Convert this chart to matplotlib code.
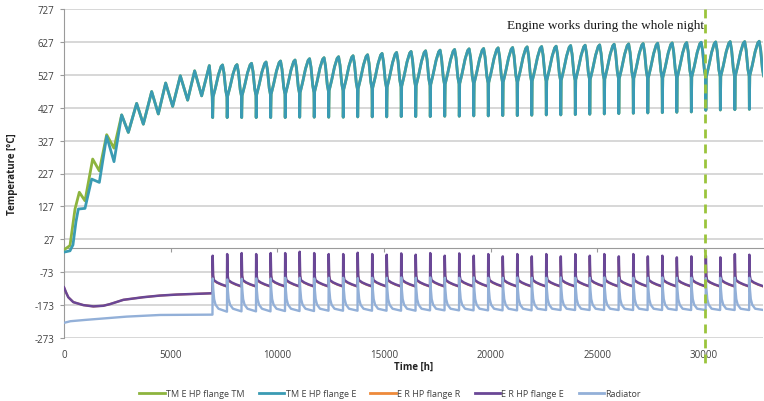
import matplotlib
matplotlib.use("Agg")
import matplotlib.pyplot as plt
import matplotlib.transforms as mtransforms
from matplotlib.lines import Line2D

# ---------------- data ----------------
series_names = ["TM E HP flange TM", "TM E HP flange E", "E R HP flange R",
                "E R HP flange E", "Radiator"]

# warm-up phase (hours, °C)
green_early_t = [0, 281, 516, 718, 984, 1344, 1656, 2000, 2344, 2703]
green_early_v = [-5, 8, 119, 170, 144, 271, 235, 345, 304, 405]

teal_early_t = [0, 281, 420, 560, 672, 984, 1297, 1656, 2000, 2344, 2703, 3016,
                3406, 3719, 4110, 4422, 4766, 5094, 5453, 5797, 6125, 6453,
                6813, 6950]
teal_early_v = [-12, -8, 10, 80, 119, 121, 210, 200, 340, 263, 405, 352,
                440, 377, 476, 408, 502, 431, 524, 450, 539, 463,
                555, 460]

purple_early_t = [0, 100, 200, 437, 905, 1375, 1844, 2156, 2781, 3719, 4500,
                  5281, 6063, 6960]
purple_early_v = [-119, -135, -149, -164, -173, -177, -175, -170, -157, -149,
                  -144, -141, -139, -137]

radiator_early_t = [0, 300, 1000, 2000, 2938, 4500, 6960]
radiator_early_v = [-227, -222, -218, -213, -208, -203, -202]

# cyclic phase: one cycle per period
cycle_start_h = 6970
cycle_period_h = 680

teal_peak = [557, 558, 562, 566, 569, 572, 576, 579, 582, 585, 588, 592, 595,
             598, 600, 602, 604, 606, 607, 609, 610, 612, 613, 614, 616, 617,
             618, 620, 621, 622, 623, 624, 625, 626, 627, 628, 628, 629]
teal_mid = [460, 462, 464, 466, 468, 470, 473, 476, 479, 482, 485, 487, 490,
            492, 494, 497, 499, 500, 502, 503, 505, 506, 508, 509, 510, 512,
            513, 514, 515, 516, 517, 518, 519, 520, 521, 522, 523, 524]
teal_trough = [397, 397, 397, 397, 397, 397, 398, 398, 398, 398, 399, 399, 399,
               400, 400, 400, 401, 401, 402, 402, 403, 403, 404, 405, 405, 406,
               407, 408, 409, 410, 411, 412, 413, 414, 419, 420, 421, 422]

purple_top = [-23, -18, -15, -18, -15, -15, -11, -15, -18, -18, -14, -18, -20,
              -16, -20, -15, -23, -16, -23, -18, -25, -18, -25, -18, -25, -18,
              -23, -18, -25, -18, -25, -23, -28, -25, -23, -28, -18, -20]
purple_decay = [-82, -97, -104, -110, -116]

orange_top = [v - 8 for v in purple_top]
orange_decay = [-85, -99, -105, -111, -117]

radiator_top = [-92, -95, -93, -92, -92, -90, -90, -92, -90, -90, -91, -90,
                -90, -89, -90, -89, -90, -90, -89, -90, -90, -89, -90, -90,
                -89, -90, -90, -89, -90, -90, -90, -89, -90, -90, -91, -90,
                -90, -90]
radiator_decay = [-125, -155, -172, -184]
radiator_bottom = [-193, -192, -192, -192, -191, -191, -191, -190, -190, -190,
                   -190, -190, -190, -190, -189, -189, -189, -189, -189, -189,
                   -189, -189, -188, -188, -188, -188, -188, -188, -188, -188,
                   -188, -188, -188, -188, -188, -188, -188, -188]

marker_time_h = 30050
annotation = "Engine works during the whole night"

y_ticks = list(range(-273, 728, 100))
x_ticks = [0, 5000, 10000, 15000, 20000, 25000, 30000]

# ---------------- build the polylines ----------------
P = cycle_period_h
teal_t, teal_v = list(teal_early_t), list(teal_early_v)
for i in range(len(teal_peak)):
    t0 = cycle_start_h + i * P
    tr, md, pk = teal_trough[i], teal_mid[i], teal_peak[i]
    d = pk - md
    fr = [0.0, 0.03, 0.2, 0.4, 0.58, 0.68, 0.78, 0.9, 0.985]
    vv = [tr, md, md + 0.3 * d, md + 0.7 * d, md + 0.95 * d, pk,
          md + 0.75 * d, md + 0.2 * d, md]
    teal_t += [t0 + f * P for f in fr]
    teal_v += vv

green_t = list(green_early_t) + [t for t in teal_t if t > green_early_t[-1]]
green_v = list(green_early_v) + [v for t, v in zip(teal_t, teal_v) if t > green_early_t[-1]]


def lower(early_t, early_v, tops, decay, bottoms=None):
    tt, vv = list(early_t), list(early_v)
    for i, top in enumerate(tops):
        t0 = cycle_start_h + i * P
        if bottoms is None:
            fr = [0.0, 0.03, 0.08, 0.3, 0.6, 0.985]
            vals = [top] + decay
        else:
            fr = [0.0, 0.04, 0.1, 0.2, 0.4, 0.985]
            vals = [top] + decay + [bottoms[i]]
        tt += [t0 + f * P for f in fr]
        vv += vals
    return tt, vv


orange_t, orange_v = lower(purple_early_t, purple_early_v, orange_top, orange_decay)
purple_t, purple_v = lower(purple_early_t, purple_early_v, purple_top, purple_decay)
rad_t, rad_v = lower(radiator_early_t, radiator_early_v, radiator_top,
                     radiator_decay, radiator_bottom)

# ---------------- drawing ----------------
plt.rcParams['font.family'] = ['Open Sans', 'DejaVu Sans']
fig = plt.figure(figsize=(7.64, 4.02), dpi=100)
ax = fig.add_axes([64 / 764, 1 - 339 / 402, 699 / 764, 329 / 402])

colors = ["#8DB43E", "#3A9BB3", "#EE8A3A", "#6A4796", "#93B0D8"]
widths = [2.0, 2.0, 1.5, 1.8, 1.7]
data = [(green_t, green_v), (teal_t, teal_v), (orange_t, orange_v),
        (purple_t, purple_v), (rad_t, rad_v)]
for (tt, vv), c, w in zip(data, colors, widths):
    ax.plot(tt, vv, color=c, lw=w, solid_joinstyle='round', zorder=3)

ax.set_xlim(0, 32770)
ax.set_ylim(-273, 727)
ax.set_yticks(y_ticks)
ax.set_yticklabels([str(v) for v in y_ticks])
ax.set_xticks(x_ticks)
ax.set_xticklabels([str(v) for v in x_ticks])
ax.yaxis.grid(True, color="#D4D4D4", lw=1.3, zorder=0)
ax.set_axisbelow(True)
for s in ["top", "right", "bottom"]:
    ax.spines[s].set_visible(False)
ax.spines["left"].set_color("#9A9A9A")
ax.tick_params(axis='y', direction='out', length=3, color="#9A9A9A",
               labelsize=7, labelcolor="#404040", pad=4)
ax.tick_params(axis='x', length=0, labelsize=7, labelcolor="#404040", pad=8)

# horizontal axis line crossing at 0 °C
frac0 = (0 - (-273)) / 1000.0
sec = ax.secondary_xaxis(frac0)
sec.set_xticks(x_ticks)
sec.set_xticklabels([])
sec.tick_params(direction='out', length=3, color="#9A9A9A")
sec.spines['bottom'].set_color("#9A9A9A")

ax.set_ylabel("Temperature [°C]", fontsize=7, fontweight='bold', color="#222222")
ax.yaxis.set_label_coords(-0.066, 0.5)
ax.set_xlabel("Time [h]", fontsize=7, fontweight='bold', color="#222222")
ax.xaxis.set_label_coords(0.5, -0.085)
ax.xaxis.label.set_va('center')

# vertical dashed marker
trans = mtransforms.blended_transform_factory(ax.transData, ax.transAxes)
ax.plot([marker_time_h, marker_time_h], [1.0, -0.087], transform=trans,
        color="#9BC43C", lw=2.0, ls=(0, (3.2, 2.2)), clip_on=False, zorder=5)
ax.text(25400, 678, annotation, ha='center', va='center', fontsize=9.5,
        family=['Liberation Serif', 'DejaVu Serif'], color="#1A1A1A", zorder=6)

handles = [Line2D([], [], color=c, lw=2) for c in colors]
fig.legend(handles, series_names, loc='center', ncol=5, frameon=False,
           bbox_to_anchor=(390 / 764, 1 - 395 / 402), fontsize=6.5,
           handlelength=2.8, handletextpad=0.15, columnspacing=1.6,
           labelcolor="#404040")

fig.savefig("out.png", dpi=100)
